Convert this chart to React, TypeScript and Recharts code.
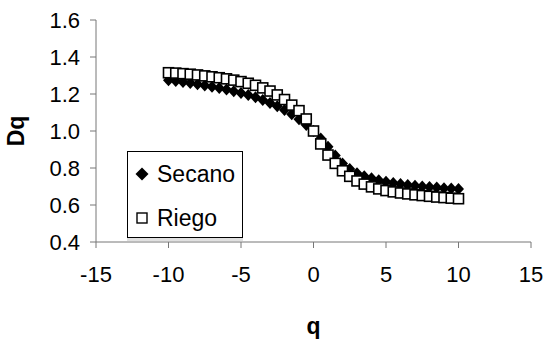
import React from 'react';
import { ScatterChart, Scatter, XAxis, YAxis, Legend, Label } from 'recharts';

const qValues = [-10, -9.5, -9, -8.5, -8, -7.5, -7, -6.5, -6, -5.5, -5, -4.5, -4, -3.5, -3, -2.5, -2, -1.5, -1, -0.5, 0, 0.5, 1, 1.5, 2, 2.5, 3, 3.5, 4, 4.5, 5, 5.5, 6, 6.5, 7, 7.5, 8, 8.5, 9, 9.5, 10];

const secanoValues = [1.275, 1.27, 1.265, 1.259, 1.253, 1.246, 1.239, 1.232, 1.224, 1.215, 1.205, 1.194, 1.182, 1.168, 1.152, 1.134, 1.113, 1.09, 1.063, 1.033, 1.0, 0.96, 0.915, 0.868, 0.825, 0.795, 0.772, 0.756, 0.744, 0.734, 0.726, 0.719, 0.713, 0.708, 0.704, 0.7, 0.697, 0.694, 0.691, 0.689, 0.687];

const riegoValues = [1.315, 1.313, 1.31, 1.307, 1.303, 1.298, 1.293, 1.288, 1.282, 1.275, 1.267, 1.258, 1.247, 1.233, 1.216, 1.195, 1.17, 1.14, 1.11, 1.065, 1.0, 0.93, 0.87, 0.825, 0.785, 0.755, 0.73, 0.713, 0.698, 0.687, 0.678, 0.671, 0.665, 0.66, 0.655, 0.651, 0.647, 0.643, 0.64, 0.637, 0.634];

const xTicks = [-15, -10, -5, 0, 5, 10, 15];
const yTicks = [0.4, 0.6, 0.8, 1.0, 1.2, 1.4, 1.6];

const seriesNames = ['Secano', 'Riego'];

const secanoData = qValues.map((q, i) => ({ q, d: secanoValues[i] }));
const riegoData = qValues.map((q, i) => ({ q, d: riegoValues[i] }));

const FONT = '"Liberation Sans", Arial, sans-serif';

const Diamond = (props: any) => {
  const { cx, cy } = props;
  if (cx == null || cy == null) return null;
  return <polygon points={`${cx},${cy - 6} ${cx + 5.5},${cy} ${cx},${cy + 6} ${cx - 5.5},${cy}`} fill="#000" />;
};

const Square = (props: any) => {
  const { cx, cy } = props;
  if (cx == null || cy == null) return null;
  return <rect x={cx - 5} y={cy - 5} width={10} height={10} fill="#fff" stroke="#000" strokeWidth={1.6} />;
};

const LegendContent = (props: any) => {
  const payload = [...(props.payload || [])].sort(
    (a: any, b: any) => seriesNames.indexOf(a.value) - seriesNames.indexOf(b.value)
  );
  return (
    <div style={{ position: 'relative', width: 116, height: 87, boxSizing: 'border-box', border: '1px solid #000', background: '#fff', boxShadow: '0 3px 0 #e0e0e0', fontFamily: FONT, fontSize: 23, color: '#000' }}>
      {payload.map((entry: any, i: number) => (
        <div key={i} style={{ position: 'absolute', left: 0, top: 7 + i * 44, height: 30, display: 'flex', alignItems: 'center' }}>
          <svg width={29} height={30} style={{ display: 'block' }}>
            {seriesNames.indexOf(entry.value) === 0 ? (
              <polygon points="14,8.5 20.5,15 14,21.5 7.5,15" fill="#000" />
            ) : (
              <rect x={9} y={10} width={10} height={10} fill="#fff" stroke="#000" strokeWidth={1.4} />
            )}
          </svg>
          <span style={{ lineHeight: '30px' }}>{entry.value}</span>
        </div>
      ))}
    </div>
  );
};

export default function App() {
  return (
    <div style={{ position: 'absolute', left: 0, top: 0, background: '#fff' }}>
      <ScatterChart width={547} height={341} margin={{ top: 20, right: 16, bottom: 0, left: 0 }}>
        <XAxis
          dataKey="q"
          type="number"
          domain={[-15, 15]}
          ticks={xTicks}
          allowDataOverflow
          height={99}
          stroke="#777"
          tickSize={6}
          tickMargin={18}
          tick={{ fill: '#000', fontSize: 22, fontFamily: FONT }}
        >
          <Label
            content={() => (
              <text x={313.5} y={334} textAnchor="middle" fontFamily={FONT} fontSize={23} fontWeight="bold" fill="#000">q</text>
            )}
          />
        </XAxis>
        <YAxis
          dataKey="d"
          type="number"
          domain={[0.4, 1.6]}
          ticks={yTicks}
          allowDataOverflow
          width={96}
          stroke="#777"
          tickSize={6}
          tickMargin={10}
          tickFormatter={(v: number) => v.toFixed(1)}
          tick={{ fill: '#000', fontSize: 22, fontFamily: FONT }}
        >
          <Label
            content={() => (
              <text x={24} y={131} transform="rotate(-90 24 131)" textAnchor="middle" fontFamily={FONT} fontSize={23} fontWeight="bold" fill="#000">Dq</text>
            )}
          />
        </YAxis>
        <Legend
          layout="vertical"
          align="center"
          verticalAlign="middle"
          content={<LegendContent />}
          wrapperStyle={{ left: 127, top: 151, width: 116, height: 87 }}
        />
        <Scatter name={seriesNames[0]} data={secanoData} fill="#000" shape={<Diamond />} isAnimationActive={false} />
        <Scatter name={seriesNames[1]} data={riegoData} fill="#fff" shape={<Square />} isAnimationActive={false} />
      </ScatterChart>
    </div>
  );
}
